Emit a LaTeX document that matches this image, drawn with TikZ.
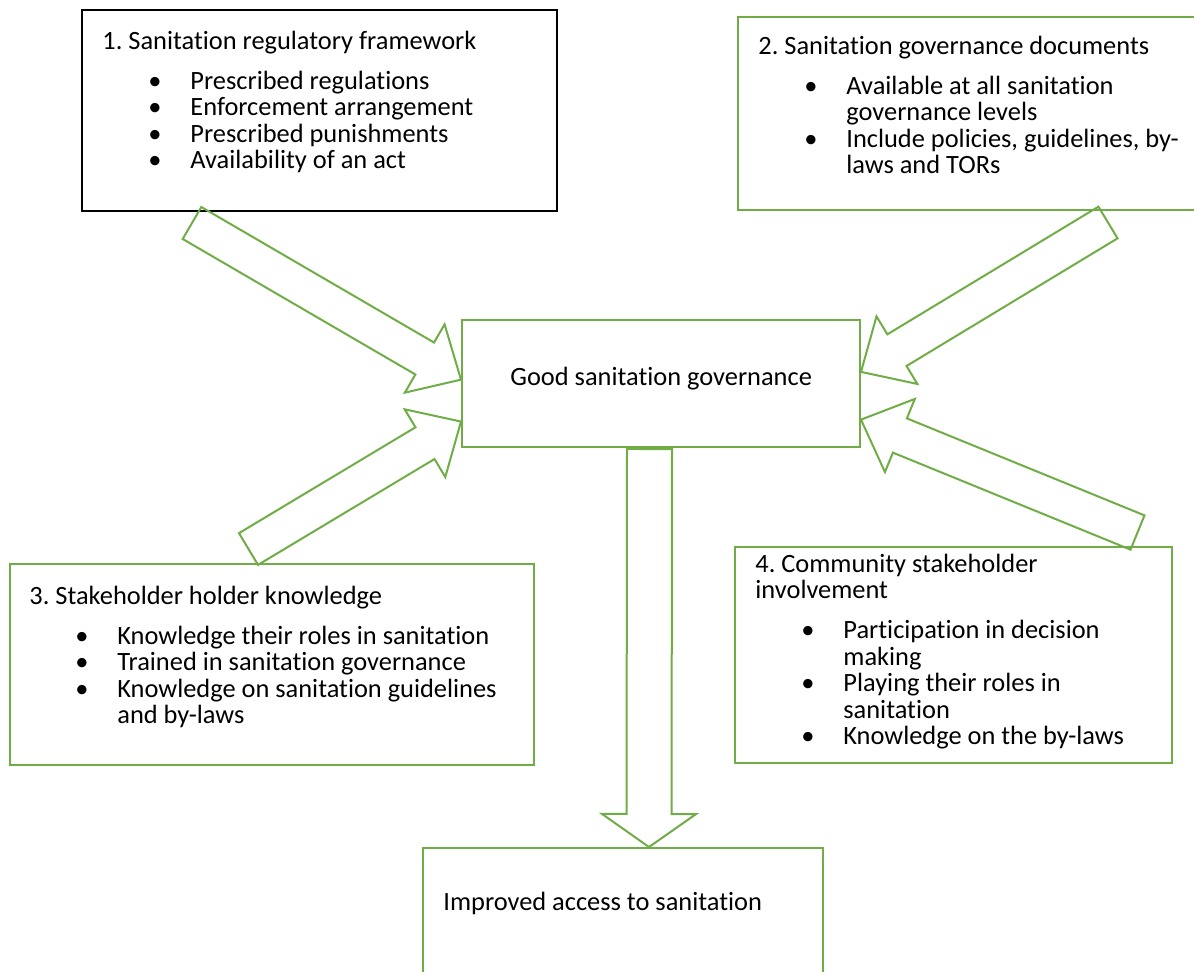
\documentclass[tikz,border=0pt]{standalone}
\usepackage{fontspec}
\setmainfont{Carlito}[Ligatures=NoCommon]
\usetikzlibrary{calc}
\definecolor{cgreen}{RGB}{112,173,71}
\frenchspacing

% bullet line and its continuation line
\newcommand\blt[1]{\hspace*{23pt}\makebox[21pt][l]{\textbullet}#1}
\newcommand\cnt[1]{\hspace*{44pt}#1}
% block arrow: tail, tip, shaft half width, head half width, head length
\newcommand\blockarrow[5]{%
  \path (#2) coordinate (bt) ($(#2)!#5!(#1)$) coordinate (bh);
  \draw[barrow] ($(#1)!#3!90:(#2)$) -- ($(bh)!#3!90:(bt)$) -- ($(bh)!#4!90:(bt)$)
    -- (bt) -- ($(bh)!#4!-90:(bt)$) -- ($(bh)!#3!-90:(bt)$) -- ($(#1)!#3!-90:(#2)$) -- cycle;}

\begin{document}
\begin{tikzpicture}[x=0.5pt,y=-0.5pt,
  gbox/.style={draw=cgreen,line width=1pt},
  kbox/.style={draw=black,line width=1.2pt},
  txt/.style={inner sep=0pt,anchor=base west,font=\fontsize{13.2pt}{13.2pt}\selectfont},
  barrow/.style={draw=cgreen,line width=1pt,line join=miter}]
\useasboundingbox (0,0) rectangle (1194,971);
% ===================== boxes =====================
\node[kbox,minimum width=237.5pt,minimum height=100.5pt] (reg) at (319.5,110.5) {};
\node[gbox,minimum width=230pt,minimum height=96.5pt] (docs) at (968,113.5) {};
\node[gbox,minimum width=199pt,minimum height=63.5pt] (gov) at (661,383.5) {};
\node[gbox,minimum width=262pt,minimum height=100.5pt] (know) at (272,664.5) {};
\node[gbox,minimum width=218.5pt,minimum height=108pt] (comm) at (953.5,655) {};
\node[gbox,minimum width=200pt,minimum height=66pt] (imp) at (623,914) {};
% ===================== texts =====================
\node[txt] (reg-t) at (102,49) {\begin{tabular}[t]{@{}l@{}}
  1. Sanitation regulatory framework\\[7pt]
  \blt{Prescribed regulations}\\
  \blt{Enforcement arrangement}\\
  \blt{Prescribed punishments}\\
  \blt{Availability of an act}
\end{tabular}};
\node[txt] (docs-t) at (758,54) {\begin{tabular}[t]{@{}l@{}}
  2. Sanitation governance documents\\[7pt]
  \blt{Available at all sanitation}\\
  \cnt{governance levels}\\
  \blt{Include policies, guidelines, by-}\\
  \cnt{laws and TORs}
\end{tabular}};
\node[txt] (gov-t) at (510,385) {Good sanitation governance};
\node[txt] (know-t) at (29,604) {\begin{tabular}[t]{@{}l@{}}
  3. Stakeholder holder knowledge\\[7pt]
  \blt{Knowledge their roles in sanitation}\\
  \blt{Trained in sanitation governance}\\
  \blt{Knowledge on sanitation guidelines}\\
  \cnt{and by-laws}
\end{tabular}};
\node[txt] (comm-t) at (755,572) {\begin{tabular}[t]{@{}l@{}}
  4. Community stakeholder\\
  involvement\\[7pt]
  \blt{Participation in decision}\\
  \cnt{making}\\
  \blt{Playing their roles in}\\
  \cnt{sanitation}\\
  \blt{Knowledge on the by-laws}
\end{tabular}};
\node[txt] (imp-t) at (443,910) {Improved access to sanitation};
% ===================== arrows =====================
\coordinate (t1) at (192,223);
\coordinate (t2) at (1108,222.5);
\coordinate (t3) at (248.5,549);
\coordinate (t4) at (1137.5,532.5);
\coordinate (p1) at ($(gov.north west)!0.47!(gov.south west)$);
\coordinate (p2) at ($(gov.north east)!0.41!(gov.south east)$);
\coordinate (p3) at ($(gov.north west)!0.795!(gov.south west)$);
\coordinate (p4) at ($(gov.north east)!0.78!(gov.south east)$);
\foreach \a/\b in {t1/p1,t2/p2,t3/p3,t4/p4}
  \blockarrow{\a}{\b}{9.25pt}{19.75pt}{21pt};
\coordinate (t5) at ($(gov.south)+(-11.5,1)$);
\coordinate (p5) at ($(imp.north)+(26,0)$);
\blockarrow{t5}{p5}{11.25pt}{23.5pt}{16.5pt}
\end{tikzpicture}
\end{document}
